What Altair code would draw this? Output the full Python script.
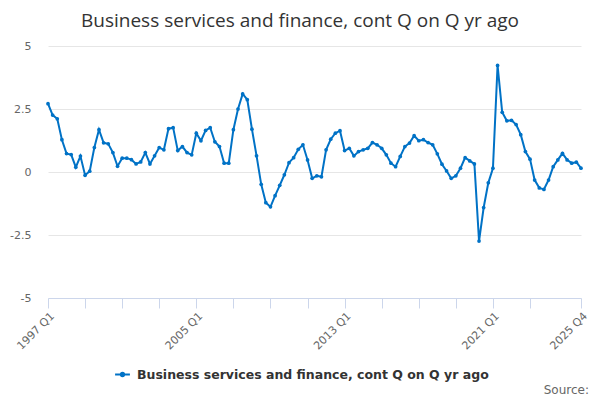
import altair as alt
import pandas as pd

years = list(range(1997, 2026))
quarters = [f"{y} Q{q}" for y in years for q in range(1, 5)]

values = [
    2.71, 2.26, 2.11, 1.28, 0.73, 0.69, 0.19, 0.63, -0.13, 0.03,
    0.97, 1.68, 1.16, 1.12, 0.77, 0.23, 0.55, 0.55, 0.49, 0.32,
    0.40, 0.77, 0.32, 0.64, 0.97, 0.88, 1.72, 1.76, 0.85, 1.01,
    0.77, 0.68, 1.54, 1.24, 1.65, 1.76, 1.20, 1.01, 0.35, 0.35,
    1.68, 2.50, 3.10, 2.87, 1.70, 0.64, -0.49, -1.22, -1.38, -0.94,
    -0.53, -0.11, 0.37, 0.57, 0.90, 1.08, 0.48, -0.25, -0.15, -0.19,
    0.88, 1.30, 1.54, 1.64, 0.85, 0.94, 0.64, 0.81, 0.88, 0.94,
    1.17, 1.08, 0.94, 0.68, 0.35, 0.21, 0.62, 1.01, 1.15, 1.44,
    1.24, 1.28, 1.17, 1.08, 0.72, 0.31, 0.04, -0.25, -0.15, 0.15,
    0.57, 0.44, 0.32, -2.74, -1.41, -0.43, 0.15, 4.23, 2.37, 2.03,
    2.05, 1.88, 1.48, 0.81, 0.51, -0.32, -0.63, -0.69, -0.32, 0.21,
    0.48, 0.74, 0.48, 0.35, 0.39, 0.15,
]

title_text = "Business services and finance, cont Q on Q yr ago"
series_name = "Business services and finance, cont Q on Q yr ago"
source_text = "Source:"
tick_quarters = [quarters[i] for i in range(0, 105, 8)] + [quarters[-1]]
label_quarters = ["1997 Q1", "2005 Q1", "2013 Q1", "2021 Q1", "2025 Q4"]
y_ticks = [-5, -2.5, 0, 2.5, 5]

df = pd.DataFrame({"quarter": quarters, "value": values, "series": series_name})

label_js = "[" + ",".join(f"'{l}'" for l in label_quarters) + "]"

blue = "#0072c6"

base = alt.Chart(df).encode(
    x=alt.X(
        "quarter:O",
        sort=None,
        scale=alt.Scale(type="point", padding=0),
        axis=alt.Axis(
            title=None,
            values=tick_quarters,
            labelExpr=f"indexof({label_js}, datum.value) >= 0 ? datum.value : ''",
            labelAngle=-45,
            labelAlign="right",
            labelBaseline="top",
            labelColor="#666666",
            labelFontSize=11,
            labelFont="DejaVu Sans",
            labelPadding=2,
            domainColor="#ccd6eb",
            tickColor="#ccd6eb",
            tickSize=10,
            grid=False,
            labelOverlap=False,
        ),
    ),
    y=alt.Y(
        "value:Q",
        scale=alt.Scale(domain=[-5, 5], nice=False),
        axis=alt.Axis(
            title=None,
            values=y_ticks,
            labelExpr="'' + datum.value",
            domain=False,
            ticks=False,
            gridColor="#e6e6e6",
            labelColor="#666666",
            labelFontSize=11,
            labelFont="DejaVu Sans",
            labelPadding=17,
        ),
    ),
    color=alt.Color(
        "series:N",
        scale=alt.Scale(range=[blue]),
        legend=alt.Legend(
            title=None,
            orient="none",
            legendX=66,
            legendY=320,
            symbolType="M-1,0H1M-0.22,0a0.22,0.22 0 1,0 0.44,0a0.22,0.22 0 1,0 -0.44,0",
            symbolSize=220,
            symbolStrokeWidth=2,
            symbolFillColor=blue,
            symbolStrokeColor=blue,
            labelFont="DejaVu Sans",
            labelFontSize=12.5,
            labelFontWeight="bold",
            labelColor="#333333",
            labelOffset=6,
            labelLimit=0,
        ),
    ),
)

line = base.mark_line(strokeWidth=2, point=alt.OverlayMarkDef(size=14, filled=True, color=blue))

title = alt.Chart(pd.DataFrame({"t": [title_text]})).mark_text(
    align="center", baseline="alphabetic", font="Open Sans", fontSize=19, color="#333333"
).encode(text="t:N", x=alt.value(252), y=alt.value(-19))

source = alt.Chart(pd.DataFrame({"t": [source_text]})).mark_text(
    align="right", baseline="alphabetic", font="DejaVu Sans", fontSize=12, color="#666666"
).encode(text="t:N", x=alt.value(541), y=alt.value(348))

chart = alt.layer(line, title, source).properties(
    width=533,
    height=252,
    padding={"left": 40, "top": 38, "right": 11, "bottom": 100},
    autosize=alt.AutoSizeParams(type="none"),
).configure_view(stroke=None)

chart.save("out.html", embed_options={"renderer": "svg", "actions": False})
